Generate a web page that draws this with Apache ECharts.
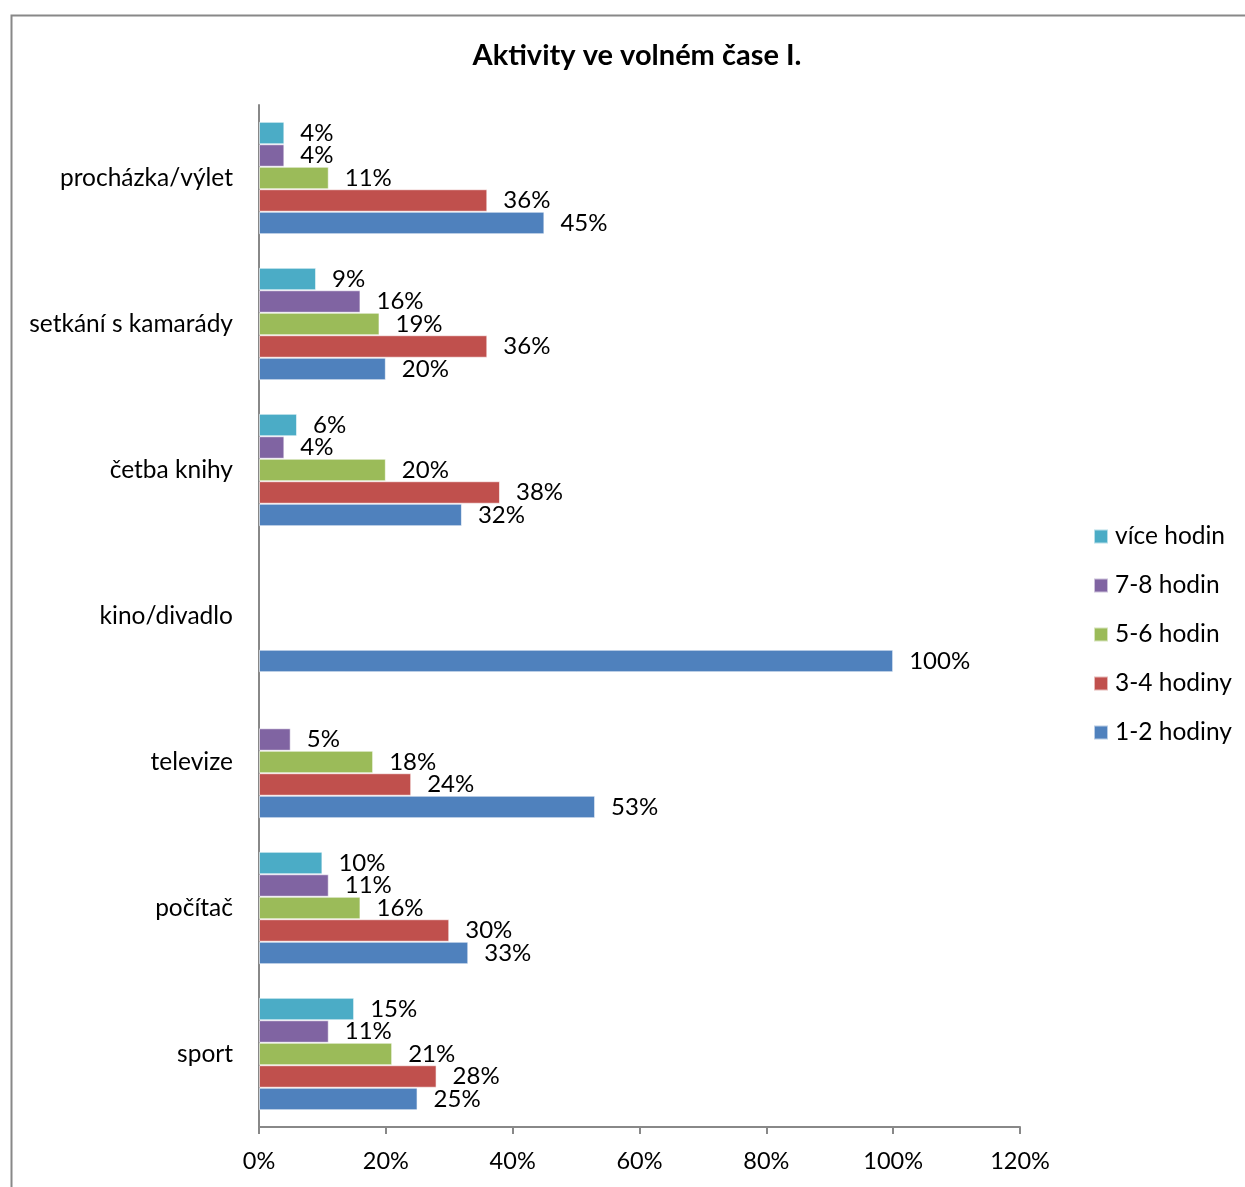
<!DOCTYPE html>
<html><head><meta charset="utf-8">
<script src="https://cdn.jsdelivr.net/npm/echarts@6/dist/echarts.min.js"></script>
<style>html,body{margin:0;padding:0;background:#fff}#c{width:1245px;height:1187px}</style>
</head><body><div id="c"></div>
<script>
const categories = ['sport', 'počítač', 'televize', 'kino/divadlo', 'četba knihy', 'setkání s kamarády', 'procházka/výlet'];
const seriesNames = ['více hodin', '7-8 hodin', '5-6 hodin', '3-4 hodiny', '1-2 hodiny'];
const hoursMore = [15, 10, null, null, 6, 9, 4];
const hours78 = [11, 11, 5, null, 4, 16, 4];
const hours56 = [21, 16, 18, null, 20, 19, 11];
const hours34 = [28, 30, 24, null, 38, 36, 36];
const hours12 = [25, 33, 53, 100, 32, 20, 45];
const xTicks = [0, 20, 40, 60, 80, 100, 120];

const colors = ['#4BACC6', '#8064A2', '#9BBB59', '#C0504D', '#4F81BD'];
const values = [hoursMore, hours78, hours56, hours34, hours12];
const FONT = 'Lato';

const chart = echarts.init(document.getElementById('c'), null, {renderer: 'canvas'});
chart.setOption({
  animation: false,
  textStyle: {fontFamily: FONT},
  title: {
    text: 'Aktivity ve volném čase I.',
    left: 632, top: 36, textAlign: 'center',
    textStyle: {fontFamily: FONT, fontSize: 29, fontWeight: 'bold', color: '#000'}
  },
  graphic: [{
    type: 'rect', left: 9, top: 13, silent: true,
    shape: {x: 0, y: 0, width: 1250, height: 1200},
    style: {fill: 'none', stroke: '#888', lineWidth: 2}
  }],
  legend: {
    orient: 'vertical', left: 1088, top: 519,
    itemWidth: 14, itemHeight: 14, itemGap: 24,
    icon: 'rect',
    data: ['více hodin', '7-8 hodin', '5-6 hodin', '3-4 hodiny', '1-2 hodiny'],
    textStyle: {fontFamily: FONT, fontSize: 24.5, color: '#000', padding: [0, 0, 0, 2]}
  },
  grid: {left: 259, right: 225, top: 105, bottom: 60, containLabel: false},
  xAxis: {
    type: 'value', min: 0, max: 120, interval: 20,
    axisLine: {show: true, lineStyle: {color: '#888', width: 2}},
    axisTick: {show: true, length: 7, lineStyle: {color: '#888', width: 2}},
    splitLine: {show: false},
    axisLabel: {fontFamily: FONT, fontSize: 23.5, color: '#000', margin: 22,
      formatter: v => xTicks.includes(v) ? v + '%' : ''}
  },
  yAxis: {
    type: 'category', data: categories,
    axisLine: {show: true, lineStyle: {color: '#888', width: 2}},
    axisTick: {show: false},
    axisLabel: {fontFamily: FONT, fontSize: 24.5, color: '#000', margin: 26}
  },
  series: seriesNames.map((name, i) => ({
    name, type: 'bar', data: values[i],
    barGap: '0%', barCategoryGap: '23%',
    itemStyle: {color: colors[i], borderColor: 'rgba(255,255,255,0.6)', borderWidth: 1},
    label: {show: true, position: 'right', distance: 16, fontFamily: FONT, fontSize: 24, color: '#000',
      formatter: p => p.value == null ? '' : p.value + '%'}
  }))
});
</script></body></html>
